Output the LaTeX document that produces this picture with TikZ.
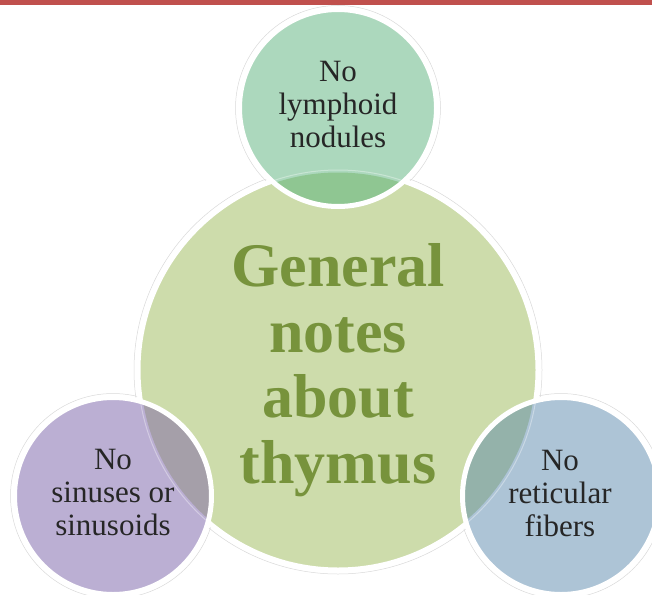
\documentclass[tikz,border=0pt]{standalone}
\usepackage{fontspec}
\setmainfont{Liberation Serif}
\definecolor{redbar}{HTML}{C0504D}
\definecolor{bigc}{HTML}{CDDCAB}
\definecolor{topc}{HTML}{ACD8BD}
\definecolor{topov}{HTML}{8FC692}
\definecolor{leftc}{HTML}{BBAFD3}
\definecolor{leftov}{HTML}{A59FA9}
\definecolor{rightc}{HTML}{ADC4D6}
\definecolor{rightov}{HTML}{94B2AA}
\definecolor{bigtxt}{HTML}{77933C}
\definecolor{smalltxt}{HTML}{262626}
\tikzset{
  bigcirc/.style={circle,inner sep=0pt,minimum size=400pt},
  satcirc/.style={circle,inner sep=0pt,minimum size=197pt},
  shadowring/.style={draw=gray!30,line width=0.5pt},
  whiteborder/.style={draw=white,line width=5pt},
  bigtext/.style={align=center,text=bigtxt,font=\fontsize{62}{65.5}\selectfont\bfseries},
  smtext/.style={align=center,text=smalltxt,font=\fontsize{31}{33}\selectfont}
}
\begin{document}
\begin{tikzpicture}[x=1pt,y=-1pt]
\useasboundingbox (0,0) rectangle (652,594);
\fill[redbar] (0,0) rectangle (652,5.5);
% circle centres
\coordinate (bc) at (338,370);
\coordinate (tc) at (338,108);
\coordinate (lc) at (113,496);
\coordinate (rc) at (561,496);
% faint outer rings
\draw[shadowring] (bc) circle (204pt);
\draw[shadowring] (tc) circle (102.5pt);
\draw[shadowring] (lc) circle (102.5pt);
\draw[shadowring] (rc) circle (102.5pt);
% big circle
\node[bigcirc,fill=bigc,whiteborder] (big) at (bc) {};
% satellites
\node[satcirc,fill=topc] (top) at (tc) {};
\node[satcirc,fill=leftc] (left) at (lc) {};
\node[satcirc,fill=rightc] (right) at (rc) {};
% overlaps
\begin{scope}
\clip (bc) circle (197.5pt);
\fill[topov] (tc) circle (98.5pt);
\fill[leftov] (lc) circle (98.5pt);
\fill[rightov] (rc) circle (98.5pt);
\end{scope}
% faint big edge seen through satellites
\foreach \s in {tc,lc,rc}{
\begin{scope}
\clip (\s) circle (98.5pt);
\draw[white,opacity=0.35,line width=1pt] (bc) circle (200pt);
\end{scope}}
% satellite white borders
\node[satcirc,whiteborder] (topb) at (tc) {};
\node[satcirc,whiteborder] (leftb) at (lc) {};
\node[satcirc,whiteborder] (rightb) at (rc) {};
% texts
\node[bigtext] (bigt) at (338,370) {General\\notes\\about\\thymus};
\node[smtext] (topt) at (338,104.8) {No\\lymphoid\\nodules};
\node[smtext] (leftt) at (113,492.8) {No\\sinuses or\\sinusoids};
\node[smtext] (rightt) at (560,493.8) {No\\reticular\\fibers};
\end{tikzpicture}
\end{document}
